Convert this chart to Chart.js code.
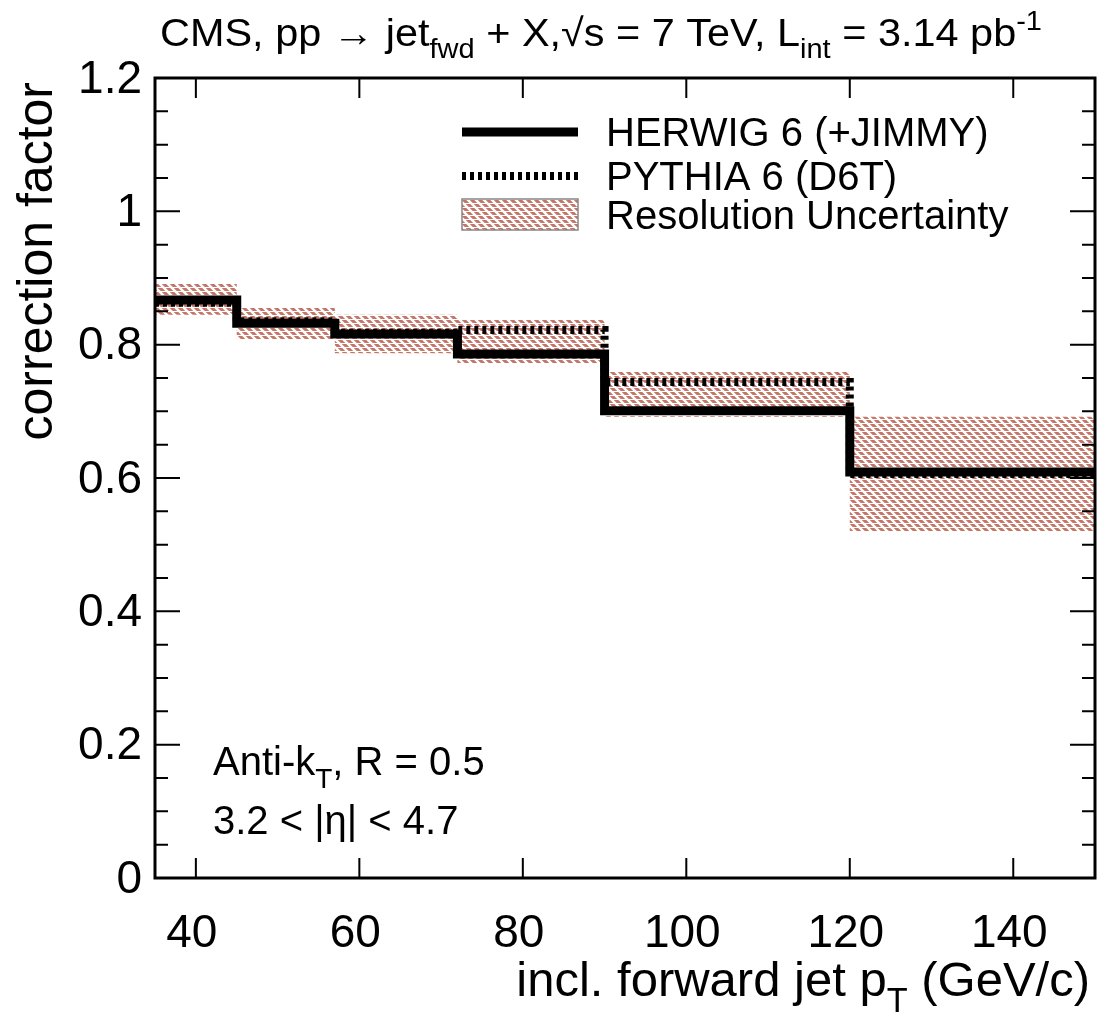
<!DOCTYPE html>
<html>
<head>
<meta charset="utf-8">
<script src="https://cdn.jsdelivr.net/npm/chart.js@4.4.0/dist/chart.umd.min.js"></script>
<style>
  html, body { margin: 0; padding: 0; background: #fff; }
  canvas { display: block; }
</style>
</head>
<body>
<canvas id="chart" width="1101" height="1014"></canvas>
<script>
// bin edges of the pT histogram (GeV/c)
const binEdges = [35, 45, 57, 72, 90, 120, 150];
// correction factors per bin
const herwig = [0.867, 0.832, 0.816, 0.786, 0.701, 0.609];
const pythia = [0.863, 0.835, 0.818, 0.822, 0.744, 0.606];
// resolution uncertainty band
const bandHigh = [0.892, 0.855, 0.845, 0.837, 0.759, 0.692];
const bandLow = [0.845, 0.807, 0.787, 0.772, 0.692, 0.519];
// axes
const xTicks = [40, 60, 80, 100, 120, 140];
const yTicks = [0, 0.2, 0.4, 0.6, 0.8, 1, 1.2];
const yTickLabels = ['0', '0.2', '0.4', '0.6', '0.8', '1', '1.2'];
const yMinorStep = 0.05;

const FONT = '"Liberation Sans", Arial, Helvetica, sans-serif';
const hatchColor = '#c47567';

// histogram as step points: point at each left edge holds that bin's value,
// the last edge repeats the last bin
function steps(vals) {
  return binEdges.map((x, i) => ({ x: x, y: vals[Math.min(i, vals.length - 1)] }));
}

// diagonal dashed hatch like the ROOT fill style
function makeHatch() {
  const c = document.createElement('canvas');
  c.width = 8; c.height = 8;
  const g = c.getContext('2d');
  g.strokeStyle = hatchColor;
  g.lineWidth = 3.2;
  g.beginPath();
  g.moveTo(-2, -2); g.lineTo(10, 10);
  g.moveTo(-10, -2); g.lineTo(2, 10);
  g.moveTo(6, -2); g.lineTo(18, 10);
  g.stroke();
  g.clearRect(0, 3, 8, 1);
  g.clearRect(0, 7, 8, 1);
  return g.createPattern(c, 'repeat');
}
const hatch = makeHatch();

// text with sub/superscripts: parts = [[text, mode], ...]
function richWidth(ctx, parts, size) {
  let w = 0;
  parts.forEach(p => {
    ctx.font = (p[1] ? size * 0.7 : size) + 'px ' + FONT;
    w += ctx.measureText(p[0]).width;
  });
  return w;
}
function drawRich(ctx, parts, x, y, size) {
  let cx = x;
  parts.forEach(p => {
    const s = p[1] ? size * 0.7 : size;
    ctx.font = s + 'px ' + FONT;
    let dy = 0;
    if (p[1] === 'sub') dy = size * 0.32;
    if (p[1] === 'sup') dy = -size * 0.4;
    ctx.fillText(p[0], cx, y + dy);
    cx += ctx.measureText(p[0]).width;
  });
}

const decorations = {
  id: 'decorations',
  afterDatasetsDraw(chart) {
    const ctx = chart.ctx;
    const a = chart.chartArea;
    const xs = chart.scales.x;
    const ys = chart.scales.y;
    ctx.save();
    ctx.fillStyle = '#000';
    ctx.strokeStyle = '#000';

    // ticks
    ctx.lineWidth = 2;
    ctx.beginPath();
    xTicks.forEach(v => {
      const px = xs.getPixelForValue(v);
      ctx.moveTo(px, a.bottom); ctx.lineTo(px, a.bottom - 20);
      ctx.moveTo(px, a.top); ctx.lineTo(px, a.top + 20);
    });
    for (let v = 0; v <= 1.2001; v += yMinorStep) {
      const py = ys.getPixelForValue(v);
      const major = Math.abs(v / 0.2 - Math.round(v / 0.2)) < 1e-6;
      const len = major ? 25 : 13;
      ctx.moveTo(a.left, py); ctx.lineTo(a.left + len, py);
      ctx.moveTo(a.right, py); ctx.lineTo(a.right - len, py);
    }
    ctx.stroke();

    // frame
    ctx.lineWidth = 3;
    ctx.strokeRect(a.left, a.top, a.right - a.left, a.bottom - a.top);

    // tick labels
    ctx.font = '46px ' + FONT;
    ctx.textAlign = 'center';
    ctx.textBaseline = 'alphabetic';
    xTicks.forEach(v => ctx.fillText(String(v), xs.getPixelForValue(v) - 4, 947));
    ctx.textAlign = 'right';
    ctx.textBaseline = 'middle';
    yTicks.forEach((v, i) => ctx.fillText(yTickLabels[i], 142, ys.getPixelForValue(v) + 2));

    // axis titles
    ctx.textBaseline = 'alphabetic';
    ctx.textAlign = 'left';
    const xTitle = [['incl. forward jet p', ''], ['T', 'sub'], [' (GeV/c)', '']];
    const xw = richWidth(ctx, xTitle, 49);
    drawRich(ctx, xTitle, 1090 - xw, 996, 49);

    ctx.save();
    ctx.translate(38, 82);
    ctx.rotate(-Math.PI / 2);
    ctx.font = '50px ' + FONT;
    ctx.textAlign = 'right';
    ctx.textBaseline = 'middle';
    ctx.fillText('correction factor', 0, 0);
    ctx.restore();

    // header, narrow like the original
    ctx.textAlign = 'left';
    const title = [['CMS, pp \u2192 jet', ''], ['fwd', 'sub'], [' + X,\u221As = 7 TeV, L', ''], ['int', 'sub'], [' = 3.14 pb', ''], ['-1', 'sup']];
    const tw = richWidth(ctx, title, 39);
    ctx.save();
    ctx.translate(160, 46);
    ctx.scale(882 / tw, 1);
    drawRich(ctx, title, 0, 0, 39);
    ctx.restore();

    // annotations
    drawRich(ctx, [['Anti-k', ''], ['T', 'sub'], [', R = 0.5', '']], 213, 775, 40);
    drawRich(ctx, [['3.2 < |\u03B7| < 4.7', '']], 213, 834, 40);

    // legend
    ctx.lineCap = 'butt';
    ctx.lineWidth = 9;
    ctx.beginPath(); ctx.moveTo(462, 132); ctx.lineTo(578, 132); ctx.stroke();
    ctx.lineWidth = 8;
    ctx.setLineDash([4, 4]);
    ctx.beginPath(); ctx.moveTo(462, 176); ctx.lineTo(578, 176); ctx.stroke();
    ctx.setLineDash([]);
    ctx.fillStyle = hatch;
    ctx.fillRect(462, 199, 116, 31);
    ctx.strokeStyle = '#888';
    ctx.lineWidth = 1.5;
    ctx.strokeRect(462, 199, 116, 31);
    ctx.fillStyle = '#000';
    ctx.font = '40px ' + FONT;
    ctx.fillText('HERWIG 6 (+JIMMY)', 606, 146);
    ctx.fillText('PYTHIA 6 (D6T)', 606, 190);
    ctx.fillText('Resolution Uncertainty', 606, 229);

    ctx.restore();
  }
};

new Chart(document.getElementById('chart'), {
  type: 'line',
  data: {
    datasets: [
      {
        label: 'Resolution Uncertainty',
        data: steps(bandHigh),
        stepped: 'before',
        borderWidth: 0,
        backgroundColor: hatch,
        fill: '+1',
        order: 3
      },
      {
        label: 'band low',
        data: steps(bandLow),
        stepped: 'before',
        borderWidth: 0,
        fill: false,
        order: 3
      },
      {
        label: 'PYTHIA 6 (D6T)',
        data: steps(pythia),
        stepped: 'before',
        borderColor: '#000',
        borderWidth: 8,
        borderDash: [4, 4],
        borderCapStyle: 'butt',
        fill: false,
        order: 2
      },
      {
        label: 'HERWIG 6 (+JIMMY)',
        data: steps(herwig),
        stepped: 'before',
        borderColor: '#000',
        borderWidth: 9,
        borderCapStyle: 'butt',
        borderJoinStyle: 'miter',
        fill: false,
        order: 1
      }
    ]
  },
  options: {
    responsive: false,
    animation: false,
    layout: { padding: { left: 155, top: 78, right: 6, bottom: 136 } },
    elements: { point: { radius: 0 } },
    plugins: { legend: { display: false }, tooltip: { enabled: false } },
    scales: {
      x: { type: 'linear', min: 35, max: 150, display: false },
      y: { min: 0, max: 1.2, display: false }
    }
  },
  plugins: [decorations]
});
</script>
</body>
</html>
